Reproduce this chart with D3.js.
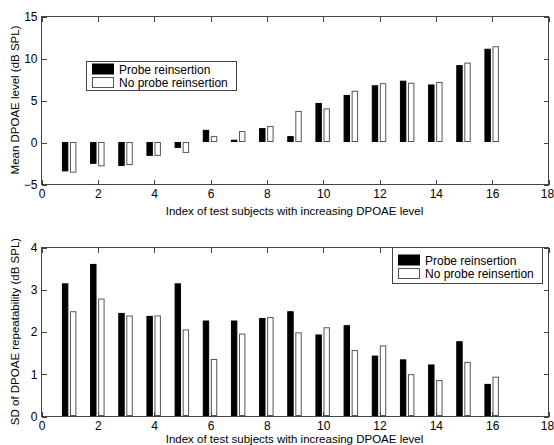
<!DOCTYPE html>
<html><head><meta charset="utf-8">
<script src="https://cdn.jsdelivr.net/npm/d3@7"></script>
<style>
body{margin:0;background:#fff;}
svg{display:block;font-family:"Liberation Sans",Arial,sans-serif;}
.axis text{font-size:12px;fill:#000;}
.axis path,.axis line{stroke:#444;shape-rendering:crispEdges;}
</style></head>
<body><svg id="c" width="554" height="445"></svg>
<script>
const subjects = [1,2,3,4,5,6,7,8,9,10,11,12,13,14,15,16];
const meanProbe   = [-3.5,-2.6,-2.85,-1.65,-0.7,1.45,0.27,1.65,0.7,4.65,5.6,6.75,7.3,6.85,9.15,11.1];
const meanNoProbe = [-3.65,-2.9,-2.75,-1.65,-1.3,0.7,1.3,1.9,3.7,4.0,6.1,7.0,7.05,7.15,9.45,11.4];
const sdProbe     = [3.14,3.6,2.44,2.37,3.14,2.26,2.26,2.32,2.48,1.93,2.15,1.43,1.34,1.22,1.77,0.76];
const sdNoProbe   = [2.48,2.78,2.38,2.38,2.05,1.35,1.95,2.34,1.98,2.1,1.56,1.67,0.99,0.85,1.28,0.93];
const xTicks = [0,2,4,6,8,10,12,14,16,18];
const yTicksTop = [-5,0,5,10,15];
const yTicksBottom = [0,1,2,3,4];
const seriesNames = ["Probe reinsertion","No probe reinsertion"];
const xLabel = "Index of test subjects with increasing DPOAE level";
const yLabelTop = "Mean DPOAE level (dB SPL)";
const yLabelBottom = "SD of DPOAE repeatability (dB SPL)";

const svg = d3.select("#c");
const x = d3.scaleLinear().domain([0,18]).range([41,548]);

function panel(cfg){
  const y = d3.scaleLinear().domain(cfg.ydom).range([cfg.bottom, cfg.top]);
  const g = svg.append("g");
  const bars = [
    {vals:cfg.a, fill:"#000", stroke:"#000", off0:-0.257, off1:-0.029},
    {vals:cfg.b, fill:"#fff", stroke:"#555", off0:0.029, off1:0.257}
  ];
  bars.forEach(s=>{
    g.selectAll(null).data(subjects).enter().append("rect")
      .attr("x", d=>x(d+s.off0)+0.5)
      .attr("width", d=>x(d+s.off1)-x(d+s.off0)-1)
      .attr("y", (d,i)=>Math.min(y(s.vals[i]), y(0))+0.5)
      .attr("height", (d,i)=>Math.max(Math.abs(y(s.vals[i])-y(0))-1,0))
      .attr("fill", s.fill).attr("stroke", s.stroke).attr("stroke-width",1);
  });
  g.append("rect").attr("x",x(0)+0.5).attr("y",cfg.top+0.5)
    .attr("width",x(18)-x(0)).attr("height",cfg.bottom-cfg.top)
    .attr("fill","none").attr("stroke","#444");
  const ax = (a,tr)=>g.append("g").attr("class","axis").attr("transform",tr).call(a);
  const xb = ax(d3.axisBottom(x).tickValues(xTicks).tickSize(-5).tickPadding(5).tickFormat(d3.format("d")),`translate(0.5,${cfg.bottom+0.5})`);
  xb.select(".domain").remove();
  xb.selectAll(".tick text").filter(d=>d===18).attr("dx","-1.5");
  ax(d3.axisTop(x).tickValues(xTicks).tickSize(-5).tickFormat(""),`translate(0.5,${cfg.top+0.5})`).select(".domain").remove();
  ax(d3.axisLeft(y).tickValues(cfg.yticks).tickSize(-5).tickPadding(4).tickFormat(d3.format("d")),`translate(${x(0)+0.5},0.5)`).select(".domain").remove();
  ax(d3.axisRight(y).tickValues(cfg.yticks).tickSize(-5).tickFormat(""),`translate(${x(18)+0.5},0.5)`).select(".domain").remove();
  g.append("text").attr("x",(x(0)+x(18))/2).attr("y",cfg.xlabY).attr("text-anchor","middle")
    .attr("font-size","11.5px").text(xLabel);
  g.append("text").attr("transform",`translate(19,${(cfg.top+cfg.bottom)/2}) rotate(-90)`)
    .attr("text-anchor","middle").attr("font-size","11.5px").text(cfg.ylab);
  const L = cfg.legend;
  const lg = g.append("g");
  lg.append("rect").attr("x",L.x+0.5).attr("y",L.y+0.5).attr("width",L.w).attr("height",L.h)
    .attr("fill","#fff").attr("stroke","#444");
  seriesNames.forEach((n,i)=>{
    lg.append("rect").attr("x",L.x+6.5).attr("y",L.y+L.pad+i*13.5).attr("width",21).attr("height",10)
      .attr("fill",i?"#fff":"#000").attr("stroke",i?"#555":"#000");
    lg.append("text").attr("x",L.x+33).attr("y",L.y+L.pad+9.5+i*13.5).attr("font-size","12px").text(n);
  });
}

panel({ydom:[-5,15], top:16, bottom:184, a:meanProbe, b:meanNoProbe, yticks:yTicksTop,
  ylab:yLabelTop, xlabY:215, legend:{x:86,y:61,w:150,h:29,pad:3}});
panel({ydom:[0,4], top:247, bottom:416, a:sdProbe, b:sdNoProbe, yticks:yTicksBottom,
  ylab:yLabelBottom, xlabY:443, legend:{x:392,y:247,w:150,h:36,pad:8}});
</script></body></html>
